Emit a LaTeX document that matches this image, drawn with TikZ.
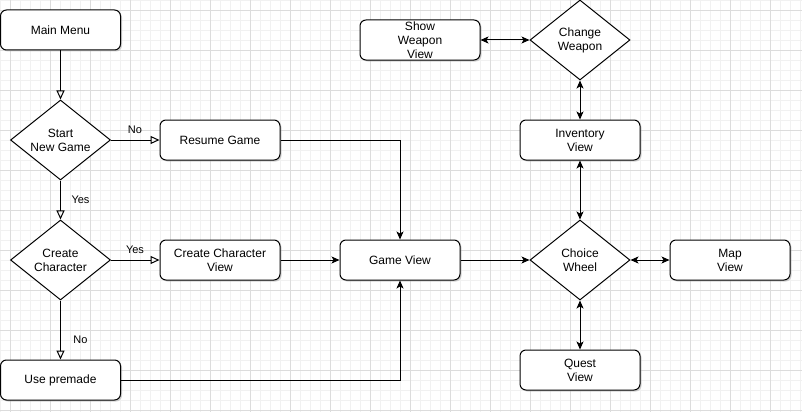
\documentclass[tikz,border=0pt]{standalone}
\usepackage{fontspec}
\setmainfont{Liberation Sans}
\usetikzlibrary{shapes.geometric,arrows.meta,shadows}
\definecolor{gridminor}{HTML}{F1F1F1}
\definecolor{gridmajor}{HTML}{DCDCDC}
\tikzset{
  box/.style={draw=black, line width=1pt, fill=white, rounded corners=6pt,
    minimum width=120pt, minimum height=40pt, inner sep=0pt, align=center,
    font=\fontsize{12}{14}\selectfont,
    drop shadow={shadow xshift=1.5pt, shadow yshift=-1.5pt, fill=black!35, opacity=0.5}},
  decision/.style={draw=black, line width=1pt, fill=white, diamond, aspect=1.25,
    minimum width=100pt, minimum height=80pt, inner sep=0pt, align=center,
    font=\fontsize{12}{14}\selectfont},
  openarrow/.style={line width=1pt, -{Triangle[open, length=9pt, width=8pt]}},
  flowarrow/.style={line width=1pt, -{Stealth[length=8pt, width=7pt, inset=2pt]}},
  bothways/.style={line width=1pt, {Stealth[length=8pt, width=7pt, inset=2pt]}-{Stealth[length=8pt, width=7pt, inset=2pt]}},
  edgelabel/.style={font=\fontsize{11}{13}\selectfont, inner sep=0pt},
}
\begin{document}
\begin{tikzpicture}[x=1pt, y=-1pt]
\useasboundingbox (0,0) rectangle (802,412);
\fill[white] (0,0) rectangle (802,412);
% grid
\foreach \i in {0,10,...,800} {
  \draw[gridminor, line width=0.8pt] (\i,0) -- (\i,412);
}
\foreach \j in {0,10,...,410} {
  \draw[gridminor, line width=0.8pt] (0,\j) -- (802,\j);
}
\foreach \i in {10,50,...,800} {
  \draw[gridmajor, line width=0.8pt] (\i,0) -- (\i,412);
}
\foreach \j in {10,50,...,410} {
  \draw[gridmajor, line width=0.8pt] (0,\j) -- (802,\j);
}

% nodes
\node[box] (main) at (60.5,30) {Main Menu};
\node[decision] (start) at (60.5,140) {Start\\New Game};
\node[box] (resume) at (220,140) {Resume Game};
\node[decision] (create) at (60.5,260) {Create\\Character};
\node[box] (ccview) at (220,260) {Create Character\\View};
\node[box] (premade) at (60.5,380) {Use premade};
\node[box] (game) at (400,260) {Game View};
\node[box] (showw) at (420,40) {Show\\Weapon\\View};
\node[decision] (changew) at (580,40) {Change\\Weapon};
\node[box] (inv) at (580,140) {Inventory\\View};
\node[decision] (wheel) at (580,260) {Choice\\Wheel};
\node[box] (map) at (730,260) {Map\\View};
\node[box] (quest) at (580,370) {Quest\\View};

% connectors
\draw[openarrow] (main) -- (start);
\draw[openarrow] (start) -- (resume);
\draw[openarrow] (start) -- (create);
\draw[openarrow] (create) -- (ccview);
\draw[openarrow] (create) -- (premade);
\draw[flowarrow] (resume.east) -| (game.north);
\draw[flowarrow] (ccview) -- (game);
\draw[flowarrow] (premade.east) -| (game.south);
\draw[flowarrow] (game) -- (wheel);
\draw[bothways] (wheel) -- (inv);
\draw[bothways] (inv) -- (changew);
\draw[bothways] (changew) -- (showw);
\draw[bothways] (wheel) -- (map);
\draw[bothways] (wheel) -- (quest);

% labels
\node[edgelabel] (lno1) at (135,130) {No};
\node[edgelabel] (lyes1) at (80.5,200) {Yes};
\node[edgelabel] (lyes2) at (135,249.5) {Yes};
\node[edgelabel] (lno2) at (80.5,340) {No};
\end{tikzpicture}
\end{document}
